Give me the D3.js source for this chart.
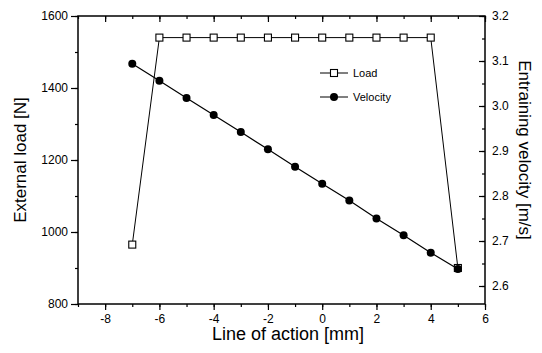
<!DOCTYPE html>
<html>
<head>
<meta charset="utf-8">
<script src="https://cdn.jsdelivr.net/npm/d3@7"></script>
<style>
  body { margin: 0; background: #fff; }
  svg { font-family: "Liberation Sans", Arial, sans-serif; }
</style>
</head>
<body>
<svg id="chart" width="542" height="353"></svg>
<script>
// data
const positions = [-7, -6, -5, -4, -3, -2, -1, 0, 1, 2, 3, 4, 5];
const loadValues = [965, 1540, 1540, 1540, 1540, 1540, 1540, 1540, 1540, 1540, 1540, 1540, 900];
const velocityValues = [3.094, 3.056, 3.018, 2.980, 2.942, 2.904, 2.865, 2.827, 2.790, 2.750, 2.713, 2.674, 2.638];
const xTicks = [-8, -6, -4, -2, 0, 2, 4, 6];
const loadTicks = [800, 1000, 1200, 1400, 1600];
const velocityTicks = [2.6, 2.7, 2.8, 2.9, 3.0, 3.1, 3.2];
const legendNames = ["Load", "Velocity"];

const margin = { top: 16, right: 57, bottom: 49, left: 78 };
const svg = d3.select("#chart");
const width = 542 - margin.left - margin.right;
const height = 353 - margin.top - margin.bottom;

const x = d3.scaleLinear().domain([-9, 6]).range([0, width]);
const yLoad = d3.scaleLinear().domain([800, 1600]).range([height, 0]);
const yVel = d3.scaleLinear().domain([2.56, 3.2]).range([height, 0]);

const g = svg.append("g").attr("transform", `translate(${margin.left},${margin.top})`);

const minorX = d3.range(-9, 6.01, 1);
const minorLoad = d3.range(800, 1601, 100);
const minorVel = d3.range(2.6, 3.201, 0.05);

function styleAxis(sel) {
  sel.select(".domain").remove();
  sel.selectAll("line").attr("stroke", "#000").attr("stroke-width", 1.2);
  sel.selectAll("text").attr("fill", "#000").style("font-size", "12px");
}

// minor ticks
g.append("g").attr("transform", `translate(0,${height})`)
  .call(d3.axisBottom(x).tickValues(minorX).tickSize(3).tickFormat(""))
  .call(styleAxis);
g.append("g")
  .call(d3.axisTop(x).tickValues(minorX).tickSize(-3).tickFormat(""))
  .call(styleAxis);
g.append("g")
  .call(d3.axisLeft(yLoad).tickValues(minorLoad).tickSize(3).tickFormat(""))
  .call(styleAxis);
g.append("g").attr("transform", `translate(${width},0)`)
  .call(d3.axisRight(yVel).tickValues(minorVel).tickSize(-3).tickFormat(""))
  .call(styleAxis);

// major ticks (plain hyphen for negatives, as in the original)
g.append("g").attr("transform", `translate(0,${height})`)
  .call(d3.axisBottom(x).tickValues(xTicks).tickSize(6).tickPadding(4).tickFormat(d => String(d)))
  .call(styleAxis);
g.append("g")
  .call(d3.axisTop(x).tickValues(xTicks).tickSize(-6).tickFormat(""))
  .call(styleAxis);
g.append("g")
  .call(d3.axisLeft(yLoad).tickValues(loadTicks).tickSize(7).tickPadding(3).tickFormat(d => String(d)))
  .call(styleAxis);
g.append("g").attr("transform", `translate(${width},0)`)
  .call(d3.axisRight(yVel).tickValues(velocityTicks).tickSize(-6).tickPadding(7).tickFormat(d3.format(".1f")))
  .call(styleAxis);

// frame
g.append("rect")
  .attr("width", width).attr("height", height)
  .attr("fill", "none").attr("stroke", "#000").attr("stroke-width", 1.5);

const loadData = positions.map((p, i) => [p, loadValues[i]]);
const velData = positions.map((p, i) => [p, velocityValues[i]]);

g.append("path").datum(loadData)
  .attr("fill", "none").attr("stroke", "#000").attr("stroke-width", 1)
  .attr("d", d3.line().x(d => x(d[0])).y(d => yLoad(d[1])));
g.append("path").datum(velData)
  .attr("fill", "none").attr("stroke", "#000").attr("stroke-width", 1.2)
  .attr("d", d3.line().x(d => x(d[0])).y(d => yVel(d[1])));

g.selectAll(".load-pt").data(loadData).enter().append("rect")
  .attr("x", d => x(d[0]) - 3.5).attr("y", d => yLoad(d[1]) - 3.5)
  .attr("width", 7).attr("height", 7)
  .attr("fill", "#fff").attr("stroke", "#000").attr("stroke-width", 1.1);
g.selectAll(".vel-pt").data(velData).enter().append("circle")
  .attr("cx", d => x(d[0])).attr("cy", d => yVel(d[1])).attr("r", 4)
  .attr("fill", "#000");

// legend
const legend = g.append("g").attr("transform", `translate(${320 - margin.left},${73 - margin.top})`);
legendNames.forEach((name, i) => {
  const row = legend.append("g").attr("transform", `translate(0,${i * 24})`);
  row.append("line").attr("x1", 0).attr("x2", 28).attr("stroke", "#000").attr("stroke-width", 1);
  if (i === 0) {
    row.append("rect").attr("x", 10.5).attr("y", -3.5).attr("width", 7).attr("height", 7)
      .attr("fill", "#fff").attr("stroke", "#000").attr("stroke-width", 1.1);
  } else {
    row.append("circle").attr("cx", 14).attr("cy", 0).attr("r", 4).attr("fill", "#000");
  }
  row.append("text").attr("x", 33).attr("y", 4).style("font-size", "11px").text(name);
});

// axis titles
svg.append("text")
  .attr("x", 288).attr("y", 340)
  .attr("text-anchor", "middle").style("font-size", "18px")
  .text("Line of action [mm]");
svg.append("text")
  .attr("transform", `translate(26,${margin.top + height / 2}) rotate(-90)`)
  .attr("text-anchor", "middle").style("font-size", "17px")
  .text("External load [N]");
svg.append("text")
  .attr("transform", `translate(519,150) rotate(90)`)
  .attr("text-anchor", "middle").style("font-size", "17px")
  .text("Entraining velocity [m/s]");
</script>
</body>
</html>
